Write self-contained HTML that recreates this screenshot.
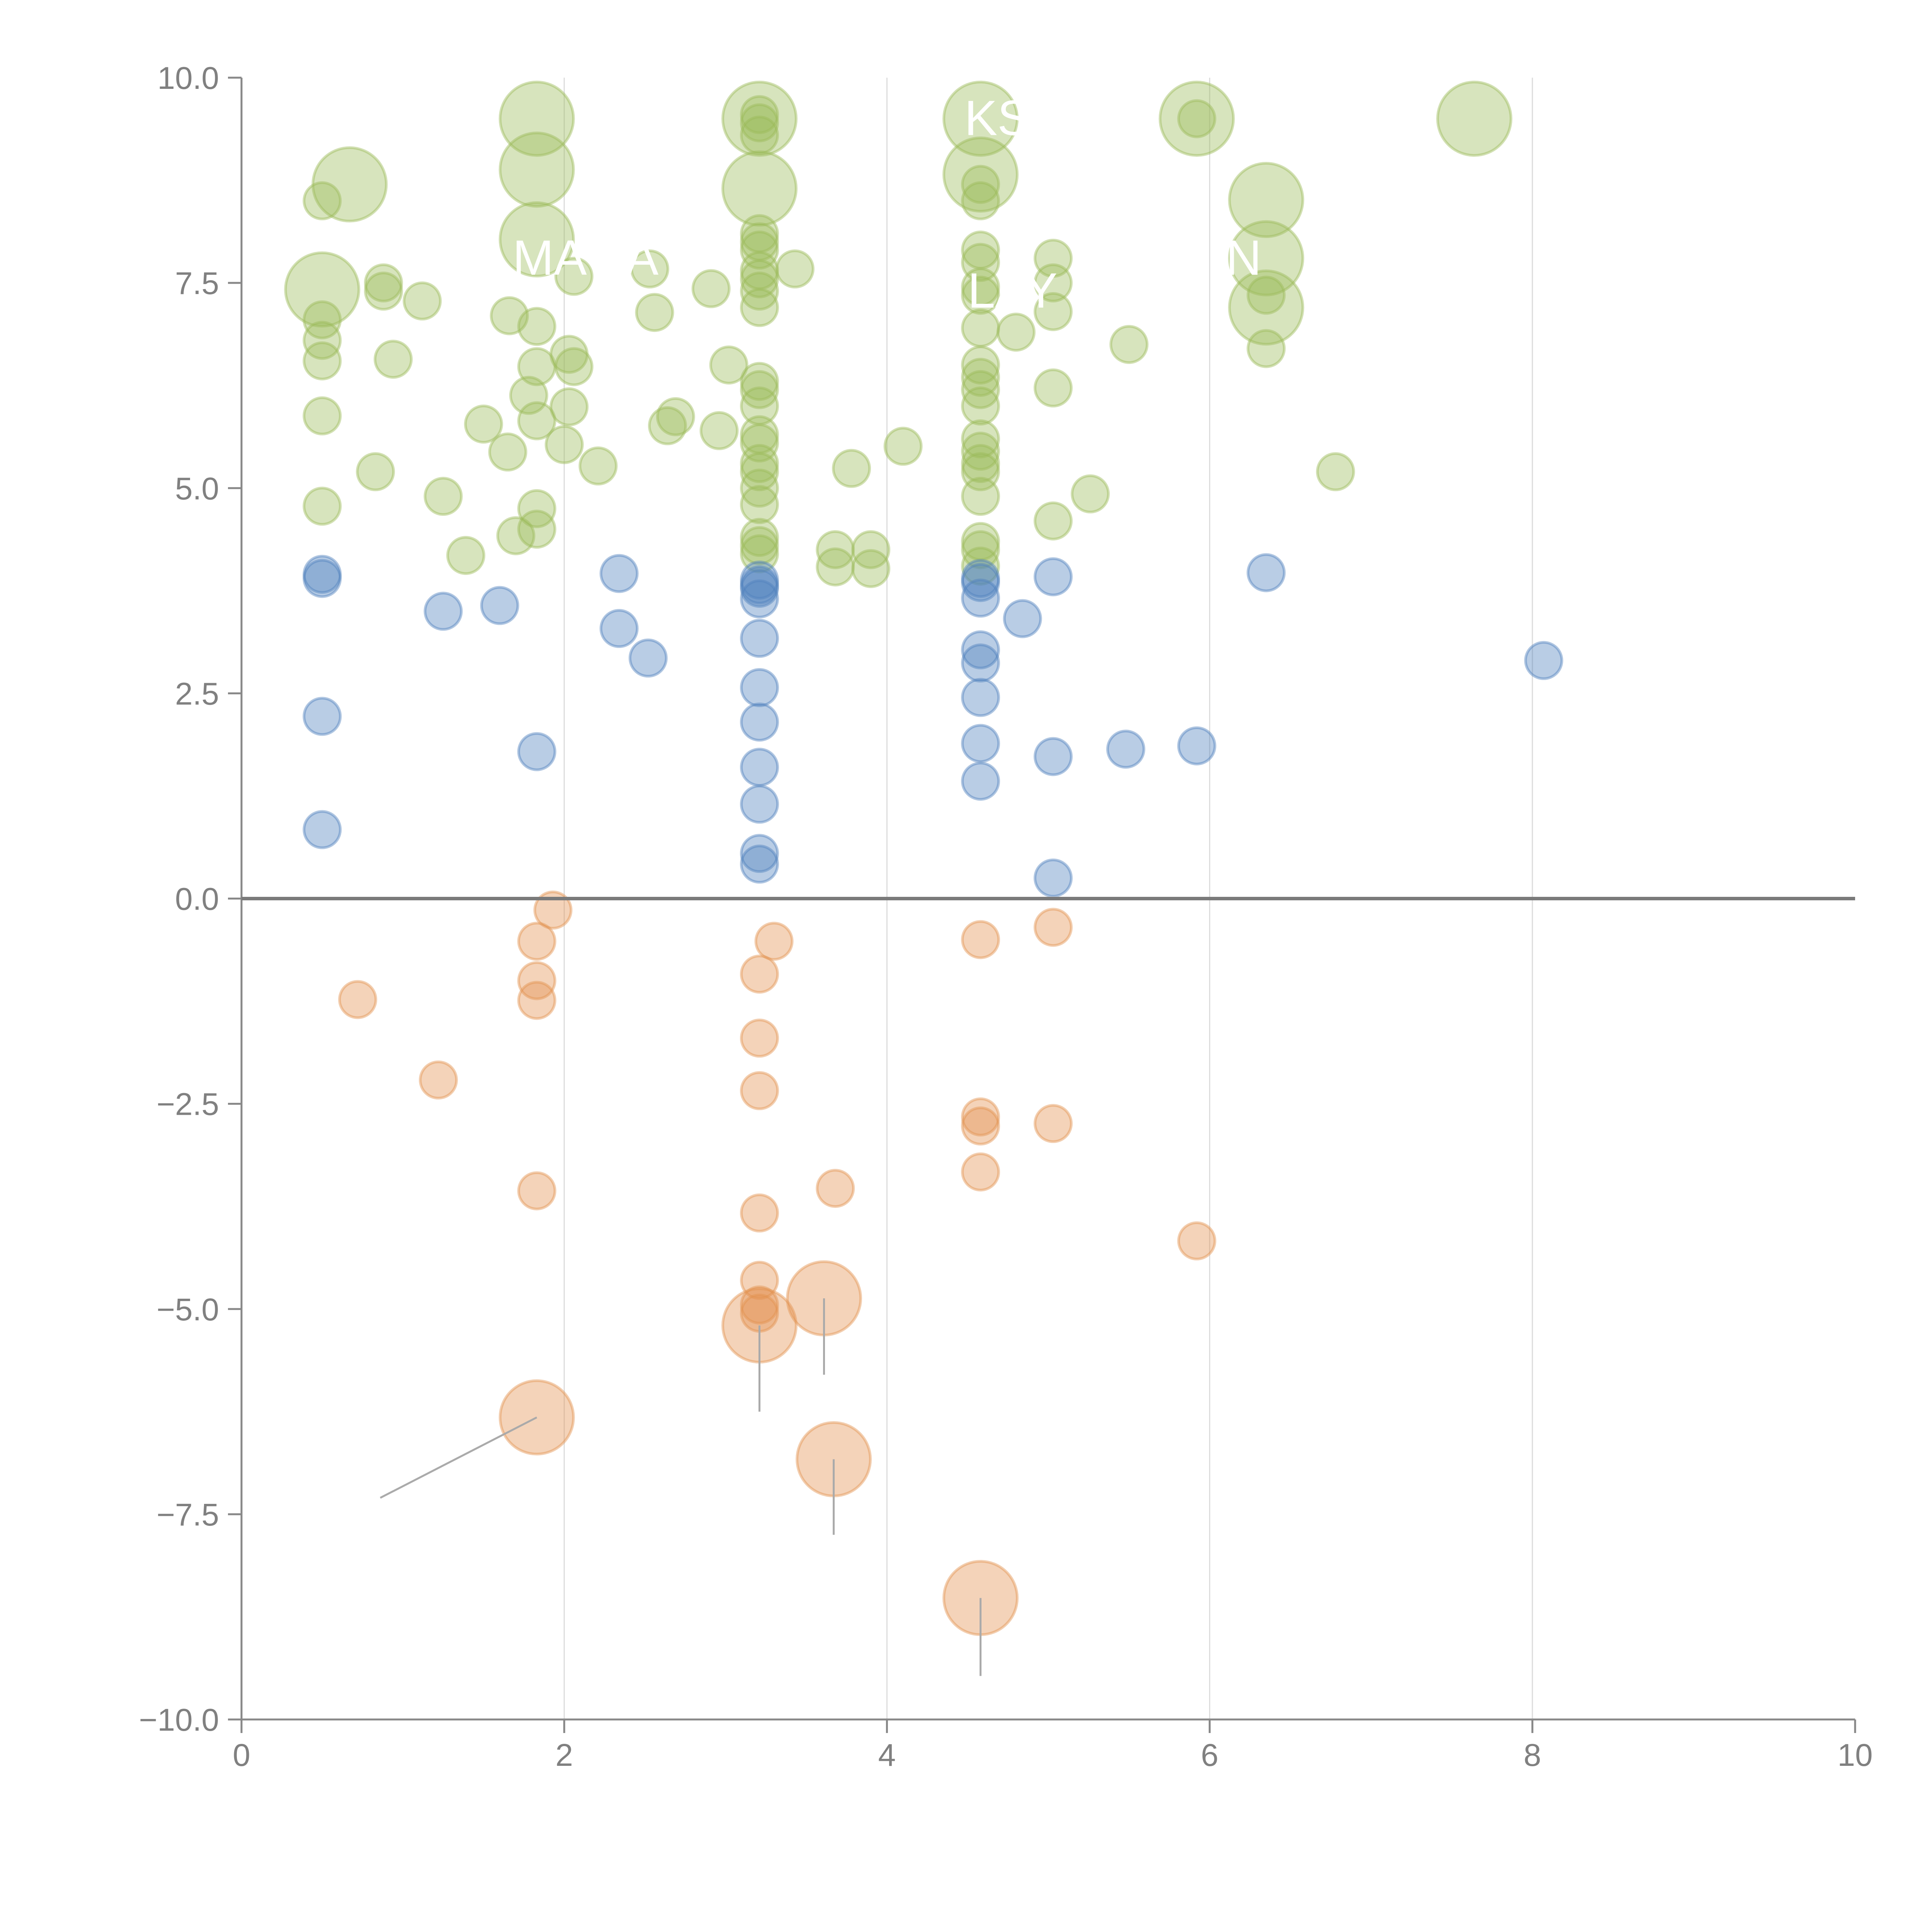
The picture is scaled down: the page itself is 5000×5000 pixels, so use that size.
<!DOCTYPE html>
<html><head><meta charset="utf-8"><style>
html,body{margin:0;padding:0;background:#fff;width:5000px;height:5000px;overflow:hidden}
svg{display:block}
text{font-family:"Liberation Sans",Arial,sans-serif}
</style></head><body>
<svg id="chart" width="5000" height="5000" viewBox="0 0 5000 5000" xmlns="http://www.w3.org/2000/svg">
<g id="grid"></g>
<g id="axes"></g>
<g id="marks"></g>
<g id="leaders"></g>
<g id="labels"></g>
</svg>
<script>
const xTicks=[0,2,4,6,8,10];
const yTicks=[10,7.5,5,2.5,0,-2.5,-5,-7.5,-10];
const yTickLabels=["10.0","7.5","5.0","2.5","0.0","\u22122.5","\u22125.0","\u22127.5","\u221210.0"];
const gridX=[2,4,6,8];
// green small
const greenX=[0.5,0.5,0.5,0.5,0.5,0.5,0.88,0.88,0.83,0.94,1.12,1.25,1.39,1.5,1.65,1.66,1.7,1.78,1.83,1.83,1.83,1.83,1.83,2.0,2.03,2.03,2.06,2.06,2.21,2.53,2.56,2.64,2.69,2.91,2.96,3.02,
3.21,3.21,3.21,3.21,3.21,3.21,3.21,3.21,3.21,3.21,3.21,3.21,3.21,3.21,3.21,3.21,3.21,3.21,3.21,3.21,3.21,3.21,
3.43,3.68,3.68,3.78,3.9,3.9,4.1,
4.58,4.58,4.58,4.58,4.58,4.58,4.58,4.58,4.58,4.58,4.58,4.58,4.58,4.58,4.58,4.58,4.58,4.58,4.58,
4.8,5.03,5.03,5.03,5.03,5.03,5.26,5.5,5.92,6.35,6.35,6.78];
const greenY=[8.5,7.05,6.8,6.55,5.88,4.78,7.5,7.4,5.2,6.57,7.28,4.9,4.18,5.78,5.44,7.1,4.42,6.13,6.97,6.48,5.82,4.75,4.5,5.53,6.63,5.99,6.48,7.58,5.27,7.67,7.14,5.76,5.87,7.43,5.7,6.5,
9.55,9.45,8.1,8.0,7.9,7.65,7.55,7.4,7.2,6.3,6.2,6.0,5.65,5.55,5.3,5.2,5.0,4.8,4.4,4.3,4.2,9.3,
7.67,4.25,4.04,5.24,4.25,4.02,5.51,
8.7,8.5,7.9,7.75,7.45,7.35,6.95,6.5,6.35,6.2,6.0,5.6,5.45,5.3,5.2,4.9,4.35,4.25,4.05,
6.9,7.8,7.5,7.15,6.22,4.6,4.93,6.75,9.5,7.35,6.7,5.2];
// green large
const greenBigX=[1.83,1.83,1.83,0.67,0.5,3.21,3.21,4.58,4.58,5.92,6.35,6.35,6.35,7.64];
const greenBigY=[9.5,8.88,8.03,8.7,7.42,9.5,8.65,9.5,8.82,9.5,8.51,7.8,7.2,9.5];
// blue
const blueX=[0.5,0.5,0.5,0.5,1.25,1.6,1.83,2.34,2.34,2.52,3.21,3.21,3.21,3.21,3.21,3.21,3.21,3.21,3.21,3.21,3.21,4.58,4.58,4.58,4.58,4.58,4.58,4.58,4.58,4.84,5.03,5.03,5.03,5.48,5.92,6.35,8.07];
const blueY=[3.95,3.9,2.22,0.84,3.5,3.57,1.79,3.96,3.29,2.93,3.88,3.82,3.78,3.65,3.17,2.57,2.15,1.6,1.15,0.55,0.42,3.9,3.85,3.66,3.03,2.87,2.45,1.89,1.43,3.41,3.92,1.73,0.25,1.82,1.86,3.97,2.9];
// orange
const orangeX=[1.93,1.83,1.83,1.83,1.83,0.72,1.22,3.21,3.21,3.21,3.21,3.21,3.21,3.21,3.3,3.68,4.58,4.58,4.58,4.58,5.03,5.03,5.92];
const orangeY=[-0.14,-0.52,-1.0,-1.24,-3.56,-1.23,-2.21,-0.92,-1.7,-2.34,-3.83,-4.65,-4.95,-5.05,-0.52,-3.53,-0.5,-2.66,-2.77,-3.33,-0.35,-2.74,-4.17];
const orangeBigX=[3.21,3.61,1.83,3.67,4.58];
const orangeBigY=[-5.2,-4.87,-6.32,-6.83,-8.52];
const leaderEndX=[3.21,3.61,0.86,3.67,4.58];
const leaderEndY=[-6.25,-5.8,-7.3,-7.75,-9.47];
const labelText=["KS","MA","A","LAY","N"];
const labelX=[4.48,1.68,2.38,4.5,6.1];
const labelY=[9.3,7.6,7.6,7.2,7.6];

const X0=625,XS=417.6,Y0=2325.5,YS=212.45;
const X=v=>X0+v*XS, Y=v=>Y0-v*YS;
const NS="http://www.w3.org/2000/svg";
function mk(tag,parent,attrs){const e=document.createElementNS(NS,tag);for(const k in attrs)e.setAttribute(k,attrs[k]);parent.appendChild(e);return e;}
const grid=document.getElementById('grid'),axes=document.getElementById('axes'),marks=document.getElementById('marks'),leaders=document.getElementById('leaders'),labels=document.getElementById('labels');

gridX.forEach(v=>{const l=mk('line',grid,{x1:X(v),x2:X(v),y1:Y(10),y2:Y(-10),stroke:'#dcdcdc','stroke-width':3});

});

let a=mk('line',axes,{x1:X(0),x2:X(0),y1:Y(10),y2:Y(-10),stroke:'#888','stroke-width':5});


a=mk('line',axes,{x1:X(0),x2:X(10),y1:Y(-10),y2:Y(-10),stroke:'#888','stroke-width':5});


yTicks.forEach((v,i)=>{const t=mk('line',axes,{x1:X(0)-35,x2:X(0),y1:Y(v),y2:Y(v),stroke:'#888','stroke-width':5});


const tx=mk('text',axes,{x:X(0)-58,y:Y(v)+29,'text-anchor':'end','font-size':82,fill:'#808080'});tx.textContent=yTickLabels[i];

});
xTicks.forEach(v=>{const t=mk('line',axes,{x1:X(v),x2:X(v),y1:Y(-10),y2:Y(-10)+35,stroke:'#888','stroke-width':5});


const tx=mk('text',axes,{x:X(v),y:Y(-10)+120,'text-anchor':'middle','font-size':82,fill:'#808080'});tx.textContent=String(v);

});

function bubbles(xs,ys,r,col,name){xs.forEach((x,i)=>{const c=mk('circle',marks,{cx:X(x),cy:Y(ys[i]),r:r,fill:col,'fill-opacity':0.4,stroke:col,'stroke-opacity':0.45,'stroke-width':7});

});}
bubbles(greenBigX,greenBigY,95,'#9bbb59','green-bubble-large');
bubbles(greenX,greenY,47,'#9bbb59','green-bubble');
bubbles(blueX,blueY,47,'#4f81bd','blue-bubble');
bubbles(orangeX,orangeY,47,'#e3924f','orange-bubble');
bubbles(orangeBigX,orangeBigY,95,'#e3924f','orange-bubble-large');

a=mk('line',axes,{x1:X(0),x2:X(10),y1:Y(0),y2:Y(0),stroke:'#7a7a7a','stroke-width':9});


axes.parentNode.insertBefore(a,leaders);

orangeBigX.forEach((x,i)=>{const l=mk('line',leaders,{x1:X(x),y1:Y(orangeBigY[i]),x2:X(leaderEndX[i]),y2:Y(leaderEndY[i]),stroke:'#aaa','stroke-width':5});

});

labelText.forEach((s,i)=>{const t=mk('text',labels,{x:X(labelX[i]),y:Y(labelY[i]),'font-size':128,fill:'#ffffff'});t.textContent=s;

});
</script>
</body></html>
